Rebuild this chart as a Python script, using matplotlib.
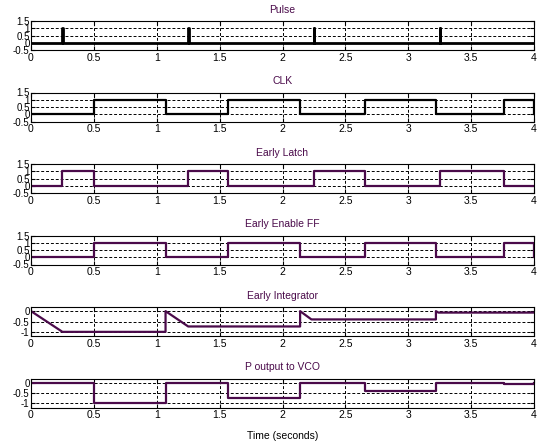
import numpy as np
import matplotlib
matplotlib.use("Agg")
import matplotlib.pyplot as plt

plt.rcParams['font.family'] = ['Liberation Sans', 'DejaVu Sans']

# values
pulse_times = [0.25, 1.25, 2.25, 3.25]
pulse_width = 0.004
clk_rise = [0.5, 1.57, 2.66, 3.76]
clk_fall = [1.07, 2.14, 3.22, 4.0]
integ_level = [-1.0, -0.74, -0.40, -0.07]
integ_reset = [0.0, 1.07, 2.14, 3.22]
integ_ramp_end = [0.25, 1.25, 2.23, 3.24]
titles = ['Pulse', 'CLK', 'Early Latch', 'Early Enable FF',
          'Early Integrator', 'P output to VCO']

purple = '#4a0a4a'


def step_wave(starts, ends, levels, t_end=4.0):
    x, y = [0.0], [0.0]
    for s, e, v in zip(starts, ends, levels):
        x += [s, s, e, e]
        y += [0, v, v, 0]
    x.append(t_end)
    y.append(0)
    return x, y


W, H = 537, 447
fig = plt.figure(figsize=(W / 100, H / 100), dpi=100)

left, right = 31, 534
tops = [21 + 71.5 * i for i in range(6)]
ax_h = 29

axes = []
for i, tp in enumerate(tops):
    ax = fig.add_axes([left / W, 1 - (tp + ax_h) / H, (right - left) / W, ax_h / H])
    axes.append(ax)

# Pulse
x, y = step_wave(pulse_times, [p + pulse_width for p in pulse_times], [1] * 4)
axes[0].plot(x, y, color='black', lw=2.0)
# CLK
x, y = step_wave(clk_rise, clk_fall, [1] * 4)
axes[1].plot(x, y, color='black', lw=1.6)
# Early Latch
x, y = step_wave(pulse_times, clk_rise, [1] * 4)
axes[2].plot(x, y, color=purple, lw=1.6)
# Early Enable FF
x, y = step_wave(clk_rise, clk_fall, [1] * 4)
axes[3].plot(x, y, color=purple, lw=1.6)
# Early Integrator
xi, yi = [], []
for r, e, v in zip(integ_reset, integ_ramp_end, integ_level):
    if xi:
        xi.append(r)
        yi.append(yi[-1])
    xi += [r, e]
    yi += [0, v]
xi.append(4.0)
yi.append(yi[-1])
axes[4].plot(xi, yi, color=purple, lw=1.6)
# P output
x, y = step_wave(clk_rise, clk_fall, integ_level)
axes[5].plot(x, y, color=purple, lw=1.6)

for i, ax in enumerate(axes):
    ax.set_xlim(0, 4)
    ax.set_xticks(np.arange(0, 4.01, 0.5))
    ax.set_xticklabels(['0', '0.5', '1', '1.5', '2', '2.5', '3', '3.5', '4'])
    if i < 4:
        ax.set_ylim(-0.5, 1.5)
        ax.set_yticks([-0.5, 0, 0.5, 1, 1.5])
        ax.set_yticklabels(['-0.5', '0', '0.5', '1', '1.5'])
    else:
        ax.set_ylim(-1.2, 0.2)
        ax.set_yticks([-1, -0.5, 0])
        ax.set_yticklabels(['-1', '-0.5', '0'])
    ax.grid(True, color='black', linestyle=(0, (3, 2)), lw=0.7)
    ax.tick_params(axis='x', labelsize=7.5, pad=2)
    ax.tick_params(axis='y', labelsize=7, pad=1)
    ax.tick_params(length=3, direction='in', top=True, right=True)
    ax.set_title(titles[i], fontsize=7.5, color=purple, pad=6)
    for s in ax.spines.values():
        s.set_linewidth(0.8)

axes[5].set_xlabel('Time (seconds)', fontsize=7.5, labelpad=8)

fig.savefig('out.png', dpi=100)
